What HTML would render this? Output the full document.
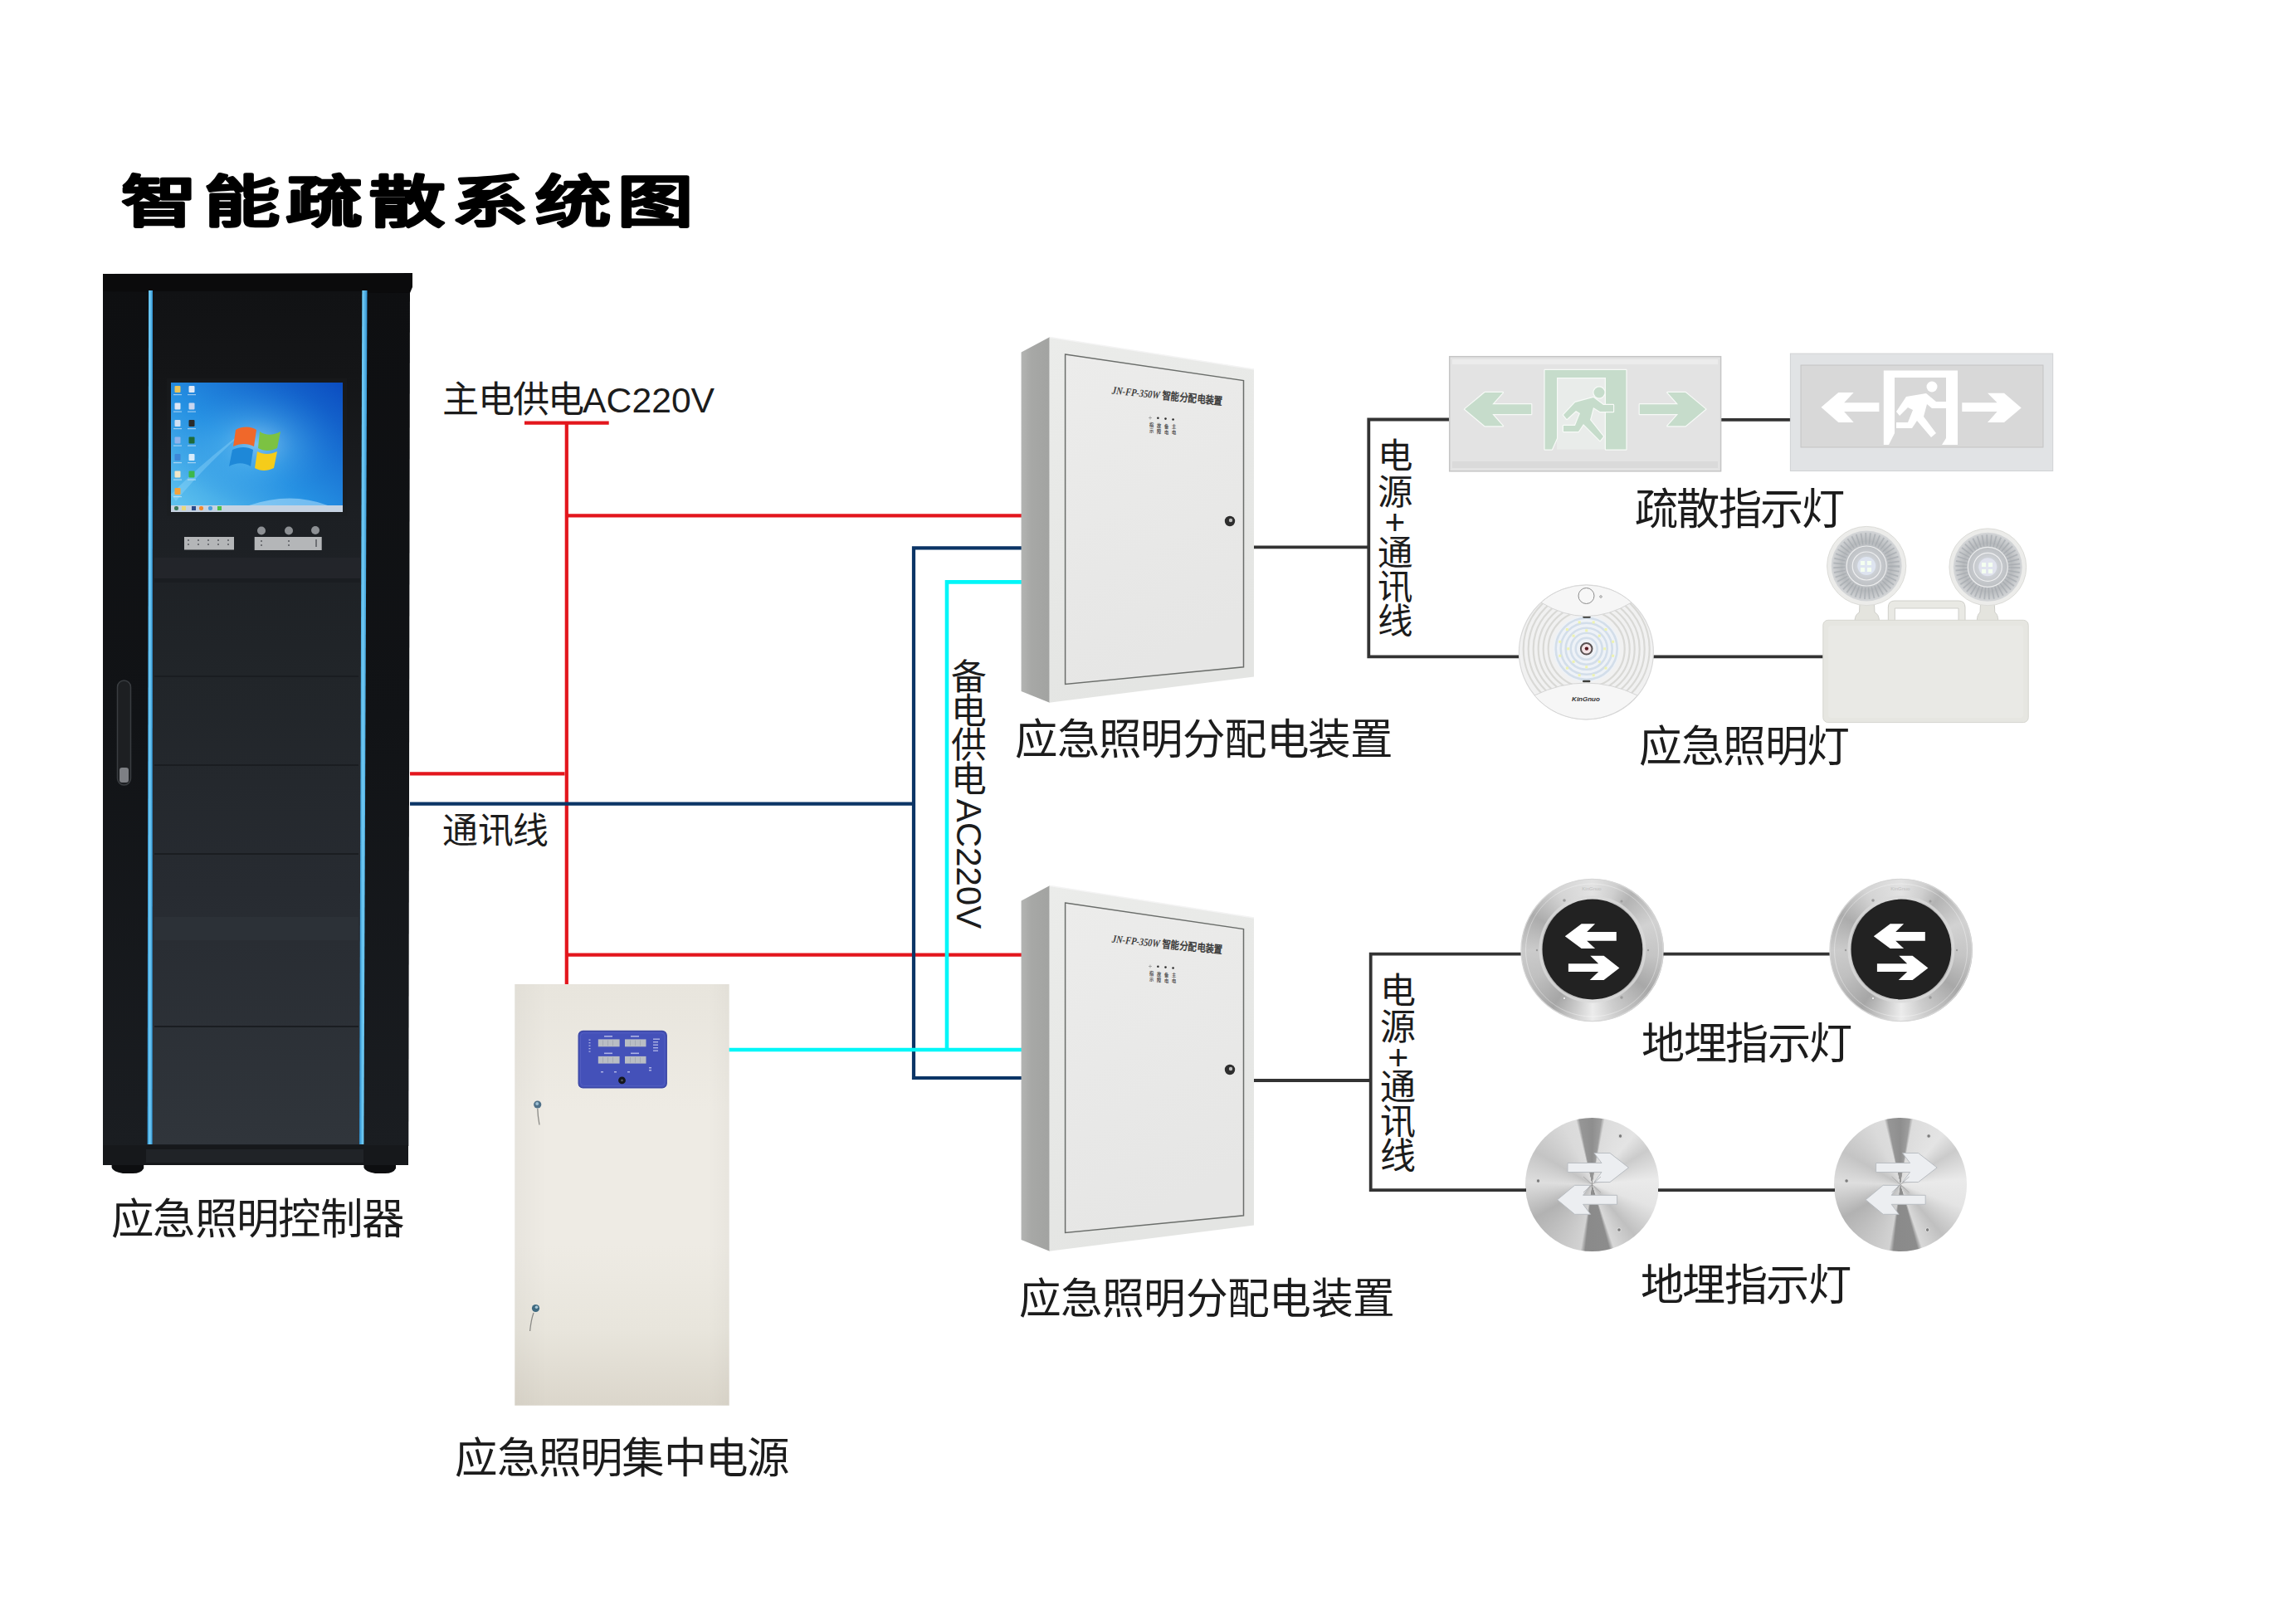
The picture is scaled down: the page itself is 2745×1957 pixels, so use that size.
<!DOCTYPE html>
<html lang="zh-CN"><head><meta charset="utf-8"><title>智能疏散系统图</title>
<style>
html,body{margin:0;padding:0;background:#fff;}
body{width:2745px;height:1957px;position:relative;overflow:hidden;font-family:"Liberation Sans",sans-serif;}
svg{position:absolute;left:0;top:0;}
.lb{font-family:"Liberation Sans",sans-serif;fill:#1c1c1c;text-anchor:middle;dominant-baseline:central;}
.ttl{font-family:"Liberation Sans",sans-serif;font-weight:900;fill:#000;stroke:#000;stroke-width:2.4px;stroke-linejoin:round;text-anchor:middle;dominant-baseline:central;}
.ring{position:absolute;width:172px;height:172px;border-radius:50%;background:conic-gradient(#e2e2e2 0deg,#cfcfcf 20deg,#b3b3b3 35deg,#d2d2d2 65deg,#c5c5c5 95deg,#a8a8a8 125deg,#cdcdcd 160deg,#ececec 180deg,#cdcdcd 195deg,#a6a6a6 215deg,#c0c0c0 245deg,#cbcbcb 270deg,#acacac 300deg,#d4d4d4 330deg,#e2e2e2 360deg);}
.plate{position:absolute;width:160.6px;height:160.6px;border-radius:50%;background:conic-gradient(#8e8e8e 0deg,#9c9c9c 8deg,#dcdcdc 11deg,#e4e4e4 40deg,#cbcbcb 58deg,#eaeaea 85deg,#e4e4e4 110deg,#c0c0c0 140deg,#d8d8d8 161deg,#8c8c8c 165deg,#8a8a8a 186deg,#d2d2d2 190deg,#b2b2b2 240deg,#dedede 272deg,#c4c4c4 300deg,#dadada 335deg,#dcdcdc 346deg,#969696 349deg,#8e8e8e 360deg);}
</style></head><body>
<div class="ring" style="left:1832.5px;top:1059px;"></div>
<div class="ring" style="left:2204.5px;top:1059px;"></div>
<div class="plate" style="left:1838.1px;top:1347.2px;"></div>
<div class="plate" style="left:2209.7px;top:1347.2px;"></div>
<svg width="2745" height="1957" viewBox="0 0 2745 1957">
<defs>
 <linearGradient id="glass" x1="0" y1="0" x2="0" y2="1">
  <stop offset="0" stop-color="#111214"/>
  <stop offset="0.1" stop-color="#141517"/>
  <stop offset="0.26" stop-color="#1c1f23"/>
  <stop offset="0.45" stop-color="#212529"/>
  <stop offset="0.7" stop-color="#272b31"/>
  <stop offset="1" stop-color="#30353b"/>
 </linearGradient>
 <linearGradient id="body" x1="0" y1="0" x2="0" y2="1">
  <stop offset="0" stop-color="#0e0f11"/>
  <stop offset="0.5" stop-color="#111316"/>
  <stop offset="1" stop-color="#1a1d21"/>
 </linearGradient>
 <linearGradient id="strip" x1="0" x2="1">
  <stop offset="0" stop-color="#2a8ccc"/>
  <stop offset="0.45" stop-color="#72cdf6"/>
  <stop offset="1" stop-color="#2f8fcf"/>
 </linearGradient>
 <linearGradient id="side" x1="0" x2="1">
  <stop offset="0" stop-color="#b3b4b2"/>
  <stop offset="0.35" stop-color="#a7a8a6"/>
  <stop offset="1" stop-color="#a2a3a1"/>
 </linearGradient>
 <linearGradient id="front" x1="0" y1="0" x2="0.3" y2="1">
  <stop offset="0" stop-color="#ebecea"/>
  <stop offset="1" stop-color="#e4e5e3"/>
 </linearGradient>
 <linearGradient id="door" x1="0" y1="0" x2="0.3" y2="1">
  <stop offset="0" stop-color="#ececeb"/>
  <stop offset="1" stop-color="#e6e6e5"/>
 </linearGradient>
 <linearGradient id="cream" x1="0" y1="0" x2="0" y2="1">
  <stop offset="0" stop-color="#e8e5dd"/>
  <stop offset="0.3" stop-color="#eeebe4"/>
  <stop offset="0.62" stop-color="#eeebe4"/>
  <stop offset="0.82" stop-color="#e8e5dc"/>
  <stop offset="1" stop-color="#dbd6cb"/>
 </linearGradient>
 <linearGradient id="creamH" x1="0" y1="0" x2="1" y2="0">
  <stop offset="0" stop-color="#000" stop-opacity="0.03"/>
  <stop offset="0.15" stop-color="#000" stop-opacity="0"/>
  <stop offset="0.9" stop-color="#000" stop-opacity="0"/>
  <stop offset="1" stop-color="#000" stop-opacity="0.025"/>
 </linearGradient>
 <radialGradient id="lens" cx="0.5" cy="0.5" r="0.5">
  <stop offset="0" stop-color="#dde4ee"/>
  <stop offset="0.35" stop-color="#c9ccd0"/>
  <stop offset="0.7" stop-color="#b7babd"/>
  <stop offset="1" stop-color="#d4d6d8"/>
 </radialGradient>
 <radialGradient id="metal" cx="0.5" cy="0.5" r="0.5">
  <stop offset="0.7" stop-color="#c9c9c9"/>
  <stop offset="0.85" stop-color="#d9d9d9"/>
  <stop offset="0.95" stop-color="#bdbdbd"/>
  <stop offset="1" stop-color="#d0d0d0"/>
 </radialGradient>
 <radialGradient id="metal2" cx="0.5" cy="0.5" r="0.5">
  <stop offset="0" stop-color="#e0e0e0"/>
  <stop offset="0.6" stop-color="#d4d4d4"/>
  <stop offset="1" stop-color="#c6c6c6"/>
 </radialGradient>
 <radialGradient id="glow" cx="0.5" cy="0.5" r="0.5" gradientUnits="objectBoundingBox">
  <stop offset="0" stop-color="#c8f0ff" stop-opacity="0.55"/>
  <stop offset="0.45" stop-color="#6cc8f5" stop-opacity="0.25"/>
  <stop offset="1" stop-color="#1a80e0" stop-opacity="0"/>
 </radialGradient>
 <linearGradient id="scr" x1="0" y1="1" x2="1" y2="0">
  <stop offset="0" stop-color="#63c6ef"/>
  <stop offset="0.45" stop-color="#2590e2"/>
  <stop offset="1" stop-color="#0b4cc0"/>
 </linearGradient>
</defs>

<!-- ===== cabinet ===== -->
<g id="cabinet">
 <path d="M124 345 L494 345 L492.3 1381 L124 1381 Z" fill="url(#body)"/>
 <path d="M124 330 L497 329 L497 346 L494 353 L124 351 Z" fill="#0b0b0c"/>
 <rect x="184" y="351" width="252" height="1028" fill="url(#glass)"/>
 <path d="M179 350 L184 350 L183.7 1379 L177.6 1379 Z" fill="url(#strip)"/>
 <path d="M436.3 350 L442.5 350 L438.4 1379 L433 1379 Z" fill="url(#strip)"/>
 <!-- shelves -->
 <g stroke="#1a1d21" stroke-width="2">
  <line x1="186" y1="815" x2="432" y2="815"/>
  <line x1="186" y1="922" x2="432" y2="922"/>
  <line x1="186" y1="1029" x2="432" y2="1029"/>
  <line x1="186" y1="1237" x2="432" y2="1237"/>
 </g>
 <rect x="186" y="1105" width="246" height="28" fill="#30353b" opacity="0.5"/>
 <rect x="186" y="672" width="248" height="25" fill="#24272c" opacity="0.8"/>
 <rect x="186" y="697" width="248" height="5" fill="#1a1d21" opacity="0.9"/>
 <rect x="201" y="456" width="217" height="166" fill="#1b1d20" opacity="0.45"/>
 <!-- screen -->
 <rect x="206" y="461" width="207" height="156" fill="url(#scr)"/>
 <rect x="206" y="461" width="207" height="148" fill="url(#glow)"/>
 <path d="M206 596 Q240 560 300 515 Q246 562 212 604 Z" fill="#a8e4ff" opacity="0.3"/>
 <path d="M300 609 Q350 592 395 609 Z" fill="#bfe8ff" opacity="0.5"/>
 <rect x="206" y="609" width="207" height="8" fill="#c6d3e2"/>
 <g><rect x="210" y="610" width="5" height="5" rx="2" fill="#3d7a5a"/><rect x="219" y="610" width="5" height="5" fill="#e8d87a"/><rect x="231" y="610" width="5" height="5" fill="#2a4a8a"/><rect x="240" y="610" width="5" height="5" rx="2" fill="#f08a30"/><rect x="251" y="610" width="5" height="5" rx="2" fill="#4aa0e0"/><rect x="262" y="610" width="5" height="5" fill="#4cc04c"/></g>
 <g transform="translate(311 540)">
  <path d="M-27 -22 C-18 -27 -8 -26 -2 -22 L-5 -2 C-12 -6 -22 -6 -30 -2 Z" fill="#f0682a"/>
  <path d="M2 -20 C9 -15 18 -15 27 -20 L23 0 C15 4 7 4 0 0 Z" fill="#7cc242"/>
  <path d="M-31 2 C-22 -2 -13 -2 -6 2 L-9 22 C-17 17 -26 17 -35 22 Z" fill="#1e88d8"/>
  <path d="M-1 4 C6 8 15 8 23 4 L19 24 C11 28 3 28 -4 24 Z" fill="#f5cc1a"/>
 </g>
 <g><rect x="210.5" y="465.0" width="7" height="8" rx="1" fill="#e9c45a"/><rect x="227.5" y="465.0" width="7" height="8" rx="1" fill="#dfe9f7"/><rect x="209" y="475.0" width="10" height="1.2" fill="#e8f0fa" opacity="0.6"/><rect x="226" y="475.0" width="10" height="1.2" fill="#e8f0fa" opacity="0.6"/><rect x="210.5" y="485.5" width="7" height="8" rx="1" fill="#dde6f5"/><rect x="227.5" y="485.5" width="7" height="8" rx="1" fill="#c8d6f0"/><rect x="209" y="495.5" width="10" height="1.2" fill="#e8f0fa" opacity="0.6"/><rect x="226" y="495.5" width="10" height="1.2" fill="#e8f0fa" opacity="0.6"/><rect x="210.5" y="506.0" width="7" height="8" rx="1" fill="#cfe0f5"/><rect x="227.5" y="506.0" width="7" height="8" rx="1" fill="#2a2a2a"/><rect x="209" y="516.0" width="10" height="1.2" fill="#e8f0fa" opacity="0.6"/><rect x="226" y="516.0" width="10" height="1.2" fill="#e8f0fa" opacity="0.6"/><rect x="210.5" y="526.5" width="7" height="8" rx="1" fill="#8fb4ec"/><rect x="227.5" y="526.5" width="7" height="8" rx="1" fill="#1e6b3a"/><rect x="209" y="536.5" width="10" height="1.2" fill="#e8f0fa" opacity="0.6"/><rect x="226" y="536.5" width="10" height="1.2" fill="#e8f0fa" opacity="0.6"/><rect x="210.5" y="547.0" width="7" height="8" rx="1" fill="#3d86d8"/><rect x="227.5" y="547.0" width="7" height="8" rx="1" fill="#d8ecfb"/><rect x="209" y="557.0" width="10" height="1.2" fill="#e8f0fa" opacity="0.6"/><rect x="226" y="557.0" width="10" height="1.2" fill="#e8f0fa" opacity="0.6"/><rect x="210.5" y="567.5" width="7" height="8" rx="1" fill="#f1e7c8"/><rect x="227.5" y="567.5" width="7" height="8" rx="1" fill="#3cb84a"/><rect x="209" y="577.5" width="10" height="1.2" fill="#e8f0fa" opacity="0.6"/><rect x="226" y="577.5" width="10" height="1.2" fill="#e8f0fa" opacity="0.6"/><rect x="210.5" y="588.0" width="7" height="8" rx="1" fill="#f3a33c"/><rect x="209" y="598.0" width="10" height="1.2" fill="#e8f0fa" opacity="0.6"/></g>
 <!-- control panels -->
 <rect x="222" y="647" width="60" height="15.5" fill="#b4b6b8"/>
 <rect x="306.7" y="647" width="81" height="16" fill="#b4b6b8"/>
 <g fill="#6e7074"><rect x="226" y="650" width="2" height="2"/><rect x="238" y="650" width="2" height="2"/><rect x="250" y="650" width="2" height="2"/><rect x="262" y="650" width="2" height="2"/><rect x="274" y="650" width="2" height="2"/>
 <rect x="226" y="655" width="2" height="2"/><rect x="238" y="655" width="2" height="2"/><rect x="250" y="655" width="2" height="2"/><rect x="262" y="655" width="2" height="2"/><rect x="274" y="655" width="2" height="2"/>
 <rect x="314" y="651" width="2" height="2"/><rect x="314" y="656" width="2" height="2"/><rect x="347" y="651" width="2" height="2"/><rect x="347" y="656" width="2" height="2"/><rect x="380" y="650" width="2" height="9"/></g>
 <g fill="#8d9094"><circle cx="315" cy="639.5" r="5"/><circle cx="348" cy="639.5" r="5"/><circle cx="380" cy="639" r="5"/></g>
 <!-- handle -->
 <rect x="141.5" y="820" width="16" height="126" rx="8" fill="#1d1f22" stroke="#3a3d41" stroke-width="1.5"/>
 <rect x="144" y="925" width="11" height="18" rx="3" fill="#7d7f84"/>
 <!-- base -->
 <rect x="124" y="1380" width="368" height="24" fill="#16181b"/>
 <rect x="176" y="1385" width="262" height="16" fill="#202327"/>
 <path d="M134.6 1404 L173.2 1404 L173.2 1408 Q170 1414 160 1414 L148 1414 Q136 1412 134.6 1407 Z" fill="#0d0e10"/>
 <path d="M438.4 1404 L477 1404 L477 1408 Q474 1414 464 1414 L452 1414 Q440 1412 438.4 1407 Z" fill="#0d0e10"/>
</g>

<!-- ===== wires ===== -->
<g fill="none" stroke-linecap="butt">
 <g stroke="#e3161d" stroke-width="4.2">
  <line x1="632" y1="509.6" x2="733.7" y2="509.6"/>
  <line x1="682.8" y1="509.6" x2="682.8" y2="1186"/>
  <line x1="682.8" y1="621.3" x2="1231" y2="621.3"/>
  <line x1="494" y1="932.4" x2="680.5" y2="932.4"/>
  <line x1="682.8" y1="1150.6" x2="1231" y2="1150.6"/>
 </g>
 <g stroke="#0b3566" stroke-width="4.2">
  <line x1="494" y1="968.6" x2="1101" y2="968.6"/>
  <path d="M1231 660.4 L1101 660.4 L1101 1299 L1231 1299"/>
 </g>
 <g stroke="#00f6f8" stroke-width="4.6">
  <path d="M1231 701.4 L1141 701.4 L1141 1265"/>
  <line x1="875" y1="1265" x2="1231" y2="1265"/>
 </g>
 <g stroke="#333" stroke-width="3.8">
  <line x1="1511" y1="659.3" x2="1649.3" y2="659.3"/>
  <path d="M1747 505.5 L1649.3 505.5 L1649.3 791.4 L1831 791.4"/>
  <line x1="2073" y1="505.8" x2="2158" y2="505.8"/>
  <line x1="1991" y1="791.4" x2="2197" y2="791.4"/>
  <line x1="1511" y1="1302" x2="1651.7" y2="1302"/>
  <path d="M1833 1149.7 L1651.7 1149.7 L1651.7 1434.1 L1839 1434.1"/>
  <line x1="2004" y1="1149.7" x2="2205" y2="1149.7"/>
  <line x1="1998" y1="1434.1" x2="2211" y2="1434.1"/>
 </g>
</g>

<!-- ===== distribution boxes ===== -->
<g id="dbox">
 <path d="M1230.6 424.5 L1264.8 406.3 L1264.8 846.7 L1230.6 833 Z" fill="url(#side)"/>
 <path d="M1264.6 406.3 L1511 444.7 L1511 815.6 L1264.6 846.7 Z" fill="url(#front)"/>
 <path d="M1283.6 427 L1498.5 458.6 L1498.5 803.8 L1283.6 824.5 Z" fill="url(#door)" stroke="#6b6e6b" stroke-width="1.5"/>
 <path d="M1265 406.5 L1511 444.9" stroke="#f4f4f4" stroke-width="1.5" fill="none"/>
 <text x="0" y="0" transform="translate(1339.5 474.5) rotate(6)" font-family="Liberation Serif, serif" font-weight="bold" font-size="13" fill="#3c3c3c" textLength="134" lengthAdjust="spacingAndGlyphs"><tspan font-style="italic">JN-FP-350W</tspan> 智能分配电装置</text>
 <path d="M1386 501.5 v4 M1384 503.5 h4" stroke="#888" stroke-width="0.6"/>
 <g fill="#2e2e2e"><circle cx="1395.4" cy="503.7" r="1.3"/><circle cx="1404.5" cy="504.6" r="1.3"/><circle cx="1413.6" cy="505.5" r="1.3"/></g>
 <g font-size="5.2" font-weight="bold" fill="#4a4a4a" font-family="Liberation Sans, sans-serif">
  <text x="1384.5" y="514">指</text><text x="1393.6" y="514.8">故</text><text x="1402.7" y="515.6">备</text><text x="1411.8" y="516.4">主</text>
  <text x="1384.5" y="521">示</text><text x="1393.6" y="521.8">障</text><text x="1402.7" y="522.6">电</text><text x="1411.8" y="523.4">电</text>
 </g>
 <circle cx="1482" cy="628" r="6.2" fill="#2e2e2e"/>
 <circle cx="1483" cy="627" r="2.2" fill="#bdbdbd"/>
</g>
<use href="#dbox" transform="translate(0 661)"/>

<!-- ===== central power supply ===== -->
<g id="psu">
 <rect x="620.3" y="1186" width="258.4" height="507.7" fill="url(#cream)"/>
 <rect x="620.3" y="1186" width="258.4" height="507.7" fill="url(#creamH)"/>
 <rect x="696" y="1241.4" width="108.4" height="70.5" rx="6" fill="#f2f2f6"/>
 <rect x="697.1" y="1242.4" width="106.2" height="68.5" rx="5.3" fill="#4451b9" stroke="#3a449c" stroke-width="1.2"/>
 <rect x="699.5" y="1244.8" width="101.4" height="63.7" rx="4" fill="none" stroke="#5a66c4" stroke-width="0.6"/>
 <g fill="#b9bdc4">
  <rect x="720.8" y="1252.4" width="25.8" height="8.9"/><rect x="753" y="1252.4" width="25.5" height="8.9"/>
  <rect x="720.8" y="1272.9" width="25.8" height="8.7"/><rect x="753" y="1272.9" width="25.5" height="8.7"/>
 </g>
 <g fill="#a0a6b0">
  <rect x="726" y="1253.5" width="0.8" height="6.7"/><rect x="732" y="1253.5" width="0.8" height="6.7"/><rect x="738" y="1253.5" width="0.8" height="6.7"/>
  <rect x="759" y="1253.5" width="0.8" height="6.7"/><rect x="765" y="1253.5" width="0.8" height="6.7"/><rect x="771" y="1253.5" width="0.8" height="6.7"/>
  <rect x="726" y="1274" width="0.8" height="6.5"/><rect x="732" y="1274" width="0.8" height="6.5"/><rect x="738" y="1274" width="0.8" height="6.5"/>
  <rect x="759" y="1274" width="0.8" height="6.5"/><rect x="765" y="1274" width="0.8" height="6.5"/><rect x="771" y="1274" width="0.8" height="6.5"/>
 </g>
 <g fill="#c8ccf0" opacity="0.8">
  <rect x="728" y="1248" width="10" height="1.6"/><rect x="760" y="1248" width="10" height="1.6"/>
  <rect x="728" y="1268.5" width="10" height="1.6"/><rect x="760" y="1268.5" width="10" height="1.6"/>
  <rect x="709.5" y="1252.5" width="2" height="1.3"/><rect x="709.5" y="1256" width="2" height="1.3"/><rect x="709.5" y="1259.5" width="2" height="1.3"/><rect x="709.5" y="1263" width="2" height="1.3"/><rect x="709.5" y="1266.5" width="2" height="1.3"/>
  <rect x="787" y="1251.5" width="8" height="1.4"/><rect x="787" y="1255" width="6" height="1.4"/><rect x="787" y="1258.5" width="6" height="1.4"/><rect x="787" y="1262" width="6" height="1.4"/><rect x="787" y="1265.5" width="6" height="1.4"/>
  <rect x="724" y="1291" width="3" height="1.5"/><rect x="740" y="1291" width="3" height="1.5"/><rect x="756" y="1291" width="3" height="1.5"/><rect x="782" y="1286" width="3" height="1.5"/><rect x="782" y="1289" width="3" height="1.5"/>
 </g>
 <circle cx="749.5" cy="1301.9" r="4.4" fill="#14161c"/>
 <circle cx="749.5" cy="1301.9" r="1.4" fill="#50545c"/>
 <circle cx="647.7" cy="1331" r="4.6" fill="#4f7088"/>
 <circle cx="647.2" cy="1330" r="2" fill="#9fc0d4"/>
 <path d="M647.8 1336 Q648 1345 650 1355.5" stroke="#8a8a86" stroke-width="1.3" fill="none"/>
 <circle cx="645.5" cy="1576.5" r="4.6" fill="#3f6a80"/>
 <circle cx="646.5" cy="1575.3" r="1.8" fill="#a9c8d8"/>
 <path d="M643 1582 Q640 1590 638.6 1604" stroke="#8a8a86" stroke-width="1.3" fill="none"/>
</g>

<!-- ===== exit sign 1 ===== -->
<g id="exit1">
 <rect x="1746.7" y="429.7" width="326.9" height="138.1" fill="#e3e3e3" stroke="#c5c5c5" stroke-width="1.5"/>
 <rect x="1750" y="433" width="320" height="6" fill="#ececec"/>
 <rect x="1750" y="556" width="320" height="8" fill="#dadada"/>
 <rect x="1876" y="455" width="59" height="86.6" fill="#e9ecea"/>
 <g fill="#c6dccb" stroke="#f7faf7" stroke-width="2.4" stroke-linejoin="round" paint-order="stroke">
  <path d="M1765.1 493.1 L1789.3 473 L1810.9 473 L1798.2 487.2 L1845.2 487.2 L1845.2 499.1 L1798.2 499.1 L1810.9 513.3 L1789.3 513.3 Z"/>
  <path d="M2055.2 493.1 L2031 473 L2009.4 473 L2022.1 487.2 L1975.8 487.2 L1975.8 499.1 L2022.1 499.1 L2009.4 513.3 L2031 513.3 Z"/>
  <path d="M1861.6 446 L1959.4 446 L1959.4 541.6 L1935 541.6 L1935 455 L1876 455 L1876 528 L1870 541.6 L1861.6 541.6 Z"/>
  <circle cx="1927" cy="473" r="6.5"/>
  <path d="M1898 485 L1920 479 L1932 488 L1944 488 L1944 496 L1928 496 L1920 491 L1916 506 L1932 526 L1928 531 L1908 511 L1902 520 L1884 520 L1884 513 L1898 513 L1904 498 L1899 495 L1888 505 L1884 500 Z"/>
 </g>
</g>

<!-- ===== exit sign 2 ===== -->
<g id="exit2">
 <rect x="2157.4" y="426.1" width="316.3" height="141.4" fill="#e1e3e5" stroke="#d0d2d4" stroke-width="1"/>
 <rect x="2170" y="440" width="292" height="99" fill="#d8d8d8" stroke="#bfbfbf" stroke-width="0.8"/>
 <g fill="#ffffff">
  <path d="M2194.5 490.7 L2215.3 473 L2233.7 473 L2222.2 485.3 L2264.4 485.3 L2264.4 496 L2222.2 496 L2233.7 509.1 L2215.3 509.1 Z"/>
  <path d="M2435.7 491.4 L2415 473.8 L2395 473.8 L2406.6 485.3 L2364.3 485.3 L2364.3 496 L2406.6 496 L2395 509.1 L2415 509.1 Z"/>
  <path d="M2269.8 446.4 L2359 446.4 L2359 536 L2340 536 L2345 528 L2345 455 L2283 455 L2283 522 L2276 536 L2269.8 536 Z"/>
  <circle cx="2328" cy="466" r="6.5"/>
  <path d="M2297 478 L2321 474 L2333 484 L2345 484 L2345 492 L2328 492 L2322 487 L2318 502 L2333 522 L2327 527 L2310 507 L2304 516 L2285 516 L2285 509 L2299 509 L2305 494 L2299 491 L2289 501 L2285 496 Z"/>
 </g>
</g>

<!-- ===== round ceiling light ===== -->
<g id="round">
 <circle cx="1911.4" cy="786" r="81" fill="#f1f1f1" stroke="#d9d9d9" stroke-width="1.2"/>
 <g fill="none" stroke="#d9d9d6" stroke-width="2.2">
  <circle cx="1911.7" cy="782" r="76"/><circle cx="1911.7" cy="782" r="70"/><circle cx="1911.7" cy="782" r="64"/><circle cx="1911.7" cy="782" r="58"/><circle cx="1911.7" cy="782" r="52"/><circle cx="1911.7" cy="782" r="46"/>
 </g>
 <circle cx="1911.7" cy="781.8" r="40" fill="#eef2f7"/>
 <g fill="none" stroke="#d3deea" stroke-width="2.6">
  <circle cx="1911.7" cy="781.8" r="37"/><circle cx="1911.7" cy="781.8" r="31"/><circle cx="1911.7" cy="781.8" r="25"/><circle cx="1911.7" cy="781.8" r="19"/><circle cx="1911.7" cy="781.8" r="13"/>
 </g>
 <g><rect x="1910.2" y="758.3" width="3" height="3" fill="#eef3b0"/><rect x="1925.8" y="764.7" width="3" height="3" fill="#eef3b0"/><rect x="1932.2" y="780.3" width="3" height="3" fill="#eef3b0"/><rect x="1925.8" y="795.9" width="3" height="3" fill="#eef3b0"/><rect x="1910.2" y="802.3" width="3" height="3" fill="#eef3b0"/><rect x="1894.6" y="795.9" width="3" height="3" fill="#eef3b0"/><rect x="1888.2" y="780.3" width="3" height="3" fill="#eef3b0"/><rect x="1894.6" y="764.7" width="3" height="3" fill="#eef3b0"/><rect x="1918.7" y="748.4" width="3" height="3" fill="#eef3b0"/><rect x="1933.5" y="757.0" width="3" height="3" fill="#eef3b0"/><rect x="1942.1" y="771.8" width="3" height="3" fill="#eef3b0"/><rect x="1942.1" y="788.8" width="3" height="3" fill="#eef3b0"/><rect x="1933.5" y="803.6" width="3" height="3" fill="#eef3b0"/><rect x="1918.7" y="812.2" width="3" height="3" fill="#eef3b0"/><rect x="1901.7" y="812.2" width="3" height="3" fill="#eef3b0"/><rect x="1886.9" y="803.6" width="3" height="3" fill="#eef3b0"/><rect x="1878.3" y="788.8" width="3" height="3" fill="#eef3b0"/><rect x="1878.3" y="771.8" width="3" height="3" fill="#eef3b0"/><rect x="1886.9" y="757.0" width="3" height="3" fill="#eef3b0"/><rect x="1901.7" y="748.4" width="3" height="3" fill="#eef3b0"/></g>
 <circle cx="1911.7" cy="781.8" r="6.8" fill="#f4e4e6" stroke="#5a5252" stroke-width="2"/>
 <circle cx="1911.9" cy="781.6" r="2.2" fill="#5a1a22"/>
 <rect x="1907.3" y="742.4" width="9.4" height="2.4" rx="1.2" fill="#3e3e3a"/>
 <rect x="1907" y="819.8" width="9.4" height="2.4" rx="1.2" fill="#3e3e3a"/>
 <path d="M1857 726 Q1911 759 1966 726 A81 81 0 0 0 1857 726 Z" fill="#f6f6f6" stroke="#d6d6d6" stroke-width="1"/>
 <circle cx="1911.5" cy="718" r="9.5" fill="#f7f7f7" stroke="#8c8c8c" stroke-width="1"/>
 <circle cx="1929" cy="719" r="1.3" fill="none" stroke="#888" stroke-width="0.8"/>
 <path d="M1849 838 Q1911 808 1973 838 A81 81 0 0 1 1849 838 Z" fill="#f6f6f6" stroke="#d6d6d6" stroke-width="1"/>
 <text x="1911" y="845" text-anchor="middle" font-size="8" font-weight="bold" font-style="italic" fill="#333">KinGnuo</text>
</g>

<!-- ===== twin head emergency light ===== -->
<g id="twin">
 <path d="M2275.3 748 L2275.3 732 Q2275.3 724 2283 724 L2360 724 Q2368 724 2368 732 L2368 748 L2360 748 L2360 733 L2283.3 733 L2283.3 748 Z" fill="#e9e9e4" stroke="#cfcfca" stroke-width="1"/>
 <path d="M2241 728 L2258.5 728 L2259 738 Q2264 740 2264.5 748 L2235 748 Q2235.5 740 2240.5 738 Z" fill="#e4e4de" stroke="#cfcfca" stroke-width="1"/>
 <path d="M2386.5 728 L2403.3 728 L2403.8 738 Q2407.5 740 2407.8 748 L2382.3 748 Q2382.6 740 2386 738 Z" fill="#e4e4de" stroke="#cfcfca" stroke-width="1"/>
 <rect x="2196.8" y="747.3" width="247.4" height="123.3" rx="6" fill="#e6e6e1" stroke="#d6d6d0" stroke-width="1"/>
 <rect x="2203" y="754" width="235" height="111" rx="4" fill="#e9e9e5"/>
 <circle cx="2249.2" cy="682" r="47.6" fill="#ececea" stroke="#dcdcd8" stroke-width="1"/>
 <circle cx="2249.2" cy="682" r="42.5" fill="url(#lens)"/>
 <circle cx="2395.3" cy="683.3" r="46.4" fill="#ececea" stroke="#dcdcd8" stroke-width="1"/>
 <circle cx="2395.3" cy="683.3" r="41.5" fill="url(#lens)"/>
 <g fill="none" stroke="#9da2a8" opacity="0.55">
  <circle cx="2249.2" cy="682" r="33" stroke-width="14" stroke-dasharray="1.6 3.2"/>
  <circle cx="2395.3" cy="683.3" r="32" stroke-width="14" stroke-dasharray="1.6 3.2"/>
 </g>
 <g fill="none" stroke="#ffffff" stroke-width="1.2" opacity="0.7">
  <circle cx="2249.2" cy="682" r="17"/><circle cx="2249.2" cy="682" r="24"/>
  <circle cx="2395.3" cy="683.3" r="17"/><circle cx="2395.3" cy="683.3" r="24"/>
 </g>
 <circle cx="2249.2" cy="682" r="11" fill="#dfe6f2" opacity="0.9"/>
 <circle cx="2395.3" cy="683.3" r="11" fill="#e2e4ef" opacity="0.9"/>
 <g fill="#f4fff0"><rect x="2242" y="676" width="5" height="5"/><rect x="2250" y="676" width="5" height="5"/><rect x="2242" y="684" width="5" height="5"/><rect x="2250" y="684" width="5" height="5"/>
 <rect x="2388" y="678" width="5" height="5"/><rect x="2396" y="678" width="5" height="5"/><rect x="2388" y="686" width="5" height="5"/><rect x="2396" y="686" width="5" height="5"/></g>
</g>

<!-- ===== floor lights (black) ===== -->
<g id="fl1">
 <circle cx="1918.5" cy="1145" r="85.6" fill="none" stroke="#d6d6d6" stroke-width="1.2"/>
 <circle cx="1918.5" cy="1145" r="80" fill="none" stroke="#ffffff" stroke-width="1" opacity="0.35"/>
 <circle cx="1918.9" cy="1144" r="63" fill="none" stroke="#d9d9d9" stroke-width="3" opacity="0.8"/>
 <circle cx="1918.9" cy="1144" r="60.4" fill="#222222"/>
 <g fill="#ffffff">
  <path d="M1885.8 1128.2 L1905.7 1113.2 L1922.1 1113.2 L1912.2 1123.1 L1947.8 1123.1 L1947.8 1133.7 L1912.2 1133.7 L1922.1 1143 L1905.7 1143 Z"/>
  <path d="M1889.9 1161.2 L1926.2 1161.2 L1916.3 1151.8 L1932.6 1151.8 L1951.4 1166.4 L1932.6 1181 L1915.7 1181 L1926.2 1171.1 L1889.9 1171.1 Z"/>
 </g>
 <g fill="#9c9c9c"><circle cx="1885" cy="1085" r="1.8"/><circle cx="1954" cy="1086" r="1.6"/><circle cx="1885" cy="1203" r="1.8" fill="#e8e8e8" stroke="#9c9c9c" stroke-width="0.8"/><circle cx="1954" cy="1202" r="1.8"/><circle cx="1852" cy="1145" r="1.2"/><circle cx="1986" cy="1145" r="1.2"/></g>
 <text x="1918" y="1073" text-anchor="middle" font-size="6" fill="#bdbdbd">KinGnuo</text>
</g>
<use href="#fl1" transform="translate(372 0)"/>

<!-- ===== floor lights (metal) ===== -->
<g id="fl2">
 <g fill="#eceef1" stroke="#b9bdc2" stroke-width="1">
  <path d="M1889 1401.5 L1930 1401.5 L1921 1389.5 L1940 1389.5 L1962.5 1407 L1940 1424.5 L1921 1424.5 L1930 1412.5 L1889 1412.5 Z"/>
  <path d="M1948.6 1440.3 L1907.6 1440.3 L1916.6 1428.3 L1897.6 1428.3 L1876.6 1445.8 L1897.6 1463.3 L1916.6 1463.3 L1907.6 1451.3 L1948.6 1451.3 Z"/>
 </g>
 <g stroke="#9a9a9a" stroke-width="0.8" opacity="0.8"><line x1="1918.4" y1="1413" x2="1918.4" y2="1440"/><line x1="1908" y1="1418" x2="1929" y2="1437"/><line x1="1929" y1="1418" x2="1908" y2="1437"/></g>
 <g fill="#7c7c7c" stroke="#e0e0e0" stroke-width="1"><circle cx="1952.5" cy="1369" r="2.3"/><circle cx="1853.5" cy="1423" r="2.3"/><circle cx="1951" cy="1482" r="2.3"/></g>
</g>
<use href="#fl2" transform="translate(371.6 0)"/>

<!-- ===== labels ===== -->
<g id="labels">
<text id="t_title" class="ttl" transform="scale(1.2490 0.9177)" x="153.3 233.2 313.0 392.9 472.8 552.6 632.5" y="265.7" font-size="73">智能疏散系统图</text>
<text id="t_l1" class="lb" x="555.4 597.6 639.8 682.1" y="481.5" font-size="44.1">主电供电<tspan x="781.6" font-size="42.7">AC220V</tspan></text>
<text id="t_l2" class="lb" x="554.9 597.2 639.6" y="1000.5" font-size="42.9">通讯线</text>
<text id="t_l3" class="lb" x="1167 1167 1167 1167" y="815.5 856.5 897.5 938.5" font-size="42.8">备电供电</text>
<text id="t_l3_r" class="lb" transform="translate(1167.0 1041) rotate(90)" x="0" y="0" font-size="42">AC220V</text>
<text id="t_l4" class="lb" x="1249.1 1299.6 1350 1400.4 1450.9 1501.3 1551.8 1602.2 1652.6" y="890.6" font-size="51.5">应急照明分配电装置</text>
<text id="t_l5" class="lb" x="1253 1303.3 1353.6 1403.9 1454.2 1504.5 1554.8 1605.2 1655.5" y="1565.8" font-size="50.7">应急照明分配电装置</text>
<text id="t_l6" class="lb" x="159.8 210.1 260.5 310.9 361.2 411.6 461.9" y="1469.1" font-size="51.5">应急照明控制器</text>
<text id="t_l7" class="lb" x="574.2 624.5 674.8 725 775.3 825.6 875.8 926.1" y="1756.5" font-size="51.5">应急照明集中电源</text>
<text id="t_l8" class="lb" x="1681 1681 1681 1681 1681 1681" y="549.5 593 629 666 707.5 748" font-size="42.5">电源+通讯线</text>
<text id="t_l9" class="lb" x="1995.9 2046.2 2096.5 2146.9 2197.2" y="613.5" font-size="52.2">疏散指示灯</text>
<text id="t_l10" class="lb" x="2000.9 2051.5 2102.1 2152.7 2203.2" y="899.9" font-size="51.9">应急照明灯</text>
<text id="t_l11" class="lb" x="1684.7 1684.7 1684.7 1684.7 1684.7 1684.7" y="1194 1237.5 1274 1309.5 1351.5 1392.5" font-size="43">电源+通讯线</text>
<text id="t_l12" class="lb" x="2004.1 2054.6 2105.1 2155.7 2206.2" y="1257.7" font-size="52.2">地埋指示灯</text>
<text id="t_l13" class="lb" x="2002.9 2053.3 2103.7 2154.1 2204.5" y="1548.7" font-size="52.2">地埋指示灯</text>
</g>
</svg>

</body></html>
